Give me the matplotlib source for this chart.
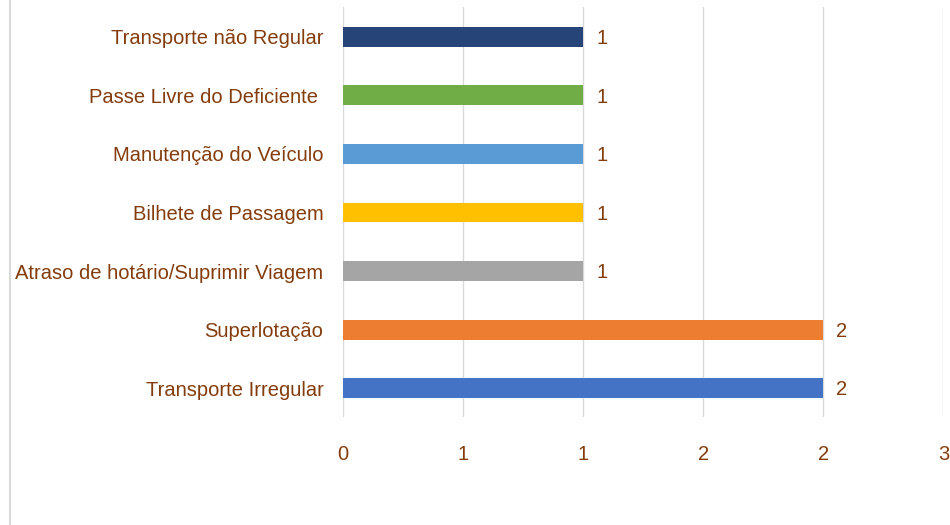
import matplotlib.pyplot as plt
from matplotlib.ticker import FuncFormatter, MultipleLocator
from matplotlib.lines import Line2D
import numpy as np

categories = ["Transporte Irregular", "Superlotação", "Atraso de hotário/Suprimir Viagem",
              "Bilhete de Passagem", "Manutenção do Veículo", "Passe Livre do Deficiente ",
              "Transporte não Regular"]
values = [2, 2, 1, 1, 1, 1, 1]
colors = ["#4472C4", "#ED7D31", "#A5A5A5", "#FFC000", "#5B9BD5", "#70AD47", "#264478"]

TEXT = "#843C0C"
plt.rcParams['font.family'] = ['Liberation Sans', 'DejaVu Sans']

fig = plt.figure(figsize=(9.5, 5.25), dpi=100)
ax = fig.add_axes([0.361, 0.2048, 0.632, 0.781])

y = np.arange(len(categories))
ax.barh(y, values, height=0.34, color=colors, zorder=3)
for yi, v in zip(y, values):
    ax.text(v + 0.055, yi - 0.03, f"{v}", va='center', ha='left', fontsize=14.5, color=TEXT)

ax.set_xlim(0, 2.5)
ax.set_ylim(-0.5, len(categories) - 0.5)
ax.xaxis.set_major_locator(MultipleLocator(0.5))
ax.xaxis.set_major_formatter(FuncFormatter(lambda v, p: f"{int(np.floor(v + 0.5))}"))
ax.set_yticks(y)
ax.set_yticklabels(categories)
ax.tick_params(axis='both', length=0, colors=TEXT, labelsize=14.5)
ax.tick_params(axis='x', pad=20)
ax.tick_params(axis='y', pad=14)
ax.grid(axis='x', color='#D9D9D9', linewidth=1, zorder=0)
for s in ax.spines.values():
    s.set_visible(False)

fig.add_artist(Line2D([10 / 950, 10 / 950], [0, 1], color='#D9D9D9', linewidth=1.5))

fig.savefig("out.png", dpi=100)
